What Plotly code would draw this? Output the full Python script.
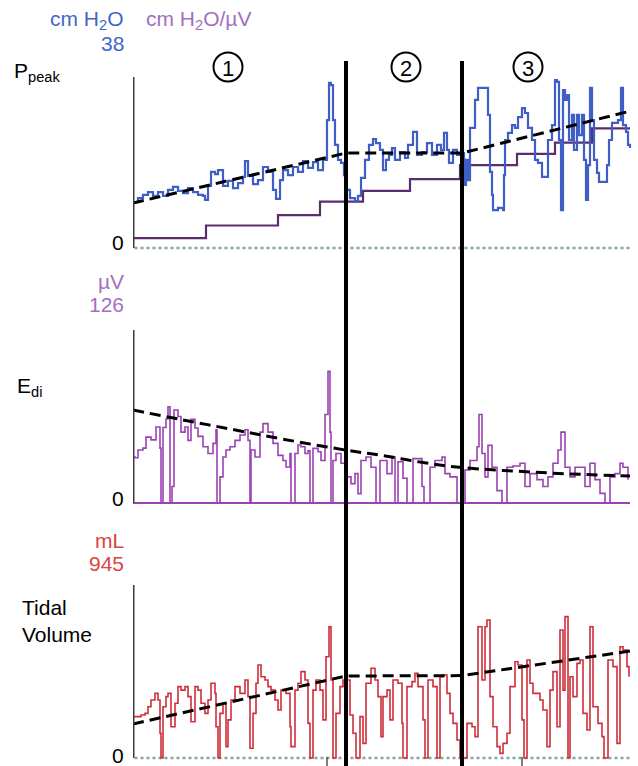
import plotly.graph_objects as go

# ---------------- data (x = breath index) ----------------
ppeak_x = [0, 5, 10, 15, 20, 25, 30, 35, 40, 45, 50, 55, 60, 65, 70, 72, 75, 78, 82, 85,
           90, 95, 100, 105, 110, 112, 115, 120, 125, 130, 135, 140, 143, 147, 150, 155, 160, 165, 170, 175,
           180, 185, 190, 194, 196, 198, 200, 202, 205, 208, 211, 213, 217, 222, 225, 228, 232, 236, 240, 243,
           247, 250, 253, 256, 259, 262, 267, 272, 275, 280, 284, 289, 294, 299, 304, 308, 311, 314, 316, 320,
           324, 329, 331, 333, 335, 337, 340, 342, 345, 350, 354, 355, 357, 359, 360, 365, 370, 371, 372, 375,
           379, 382, 385, 389, 392, 395, 399, 402, 405, 409, 412, 415, 419, 422, 424, 426, 428, 430, 432, 434,
           436, 439, 441, 444, 446, 449, 451, 453, 455, 457, 459, 461, 464, 466, 470, 474, 476, 479, 482, 485,
           488, 490, 493, 495, 497]
ppeak_y = [10.2, 11.1, 11.8, 12.4, 11.6, 12.4, 11.6, 12.9, 13.6, 12.7, 12.2, 13.3, 12.4, 11.8, 11.6, 10.7, 13.8, 16.9, 16.4, 17.3,
           13.8, 14.9, 13.3, 14.4, 15.8, 19.3, 16.0, 14.2, 15.1, 18.0, 16.9, 12.9, 10.9, 15.1, 17.3, 16.2, 18.0, 16.9, 19.3, 17.8,
           19.1, 17.3, 19.6, 28.4, 36.7, 36.2, 28.4, 22.9, 19.6, 18.9, 16.2, 12.9, 11.1, 10.4, 11.6, 15.6, 19.6, 22.9, 24.2, 23.3,
           21.8, 17.3, 19.6, 20.7, 22.2, 19.6, 21.3, 20.0, 22.9, 25.8, 20.7, 21.3, 23.3, 20.7, 22.9, 21.8, 25.6, 21.8, 18.9, 21.8,
           20.7, 21.1, 14.0, 19.6, 15.1, 26.7, 26.7, 32.9, 35.6, 35.6, 35.6, 29.6, 16.9, 11.8, 8.4, 8.9, 8.4, 16.2, 24.0, 25.6,
           27.3, 26.7, 29.1, 31.1, 30.0, 26.7, 24.0, 19.6, 18.9, 15.8, 15.8, 24.0, 27.3, 37.3, 36.9, 24.0, 8.4, 35.1, 32.9, 34.0,
           24.0, 29.6, 21.8, 29.6, 25.1, 29.6, 19.6, 10.7, 18.4, 35.6, 28.4, 19.6, 16.7, 14.7, 14.7, 18.4, 24.0, 27.8, 27.8, 28.4,
           35.6, 27.3, 25.8, 22.9, 22.2]

nava_x = [0, 73, 145, 187, 230, 277, 327, 384, 422, 459, 497]
nava_y = [2.2, 5.0, 7.3, 10.3, 12.7, 15.3, 18.4, 20.9, 23.4, 26.6, 26.6]

ppeak_trend_x = [0, 213, 329, 497]
ppeak_trend_y = [10.0, 21.1, 21.1, 30.4]

edi_x = [0, 2, 5, 10, 13, 18, 23, 27, 28, 30, 33, 35, 37, 39, 41, 45, 48, 52, 55, 58,
         62, 65, 70, 75, 80, 83, 84, 87, 90, 93, 97, 102, 107, 112, 115, 117, 118, 122, 127, 130,
         135, 140, 145, 150, 153, 157, 158, 162, 165, 168, 172, 175, 177, 180, 185, 188, 192, 195, 197, 198,
         200, 203, 208, 213, 218, 222, 225, 228, 233, 238, 243, 247, 254, 259, 262, 265, 270, 274, 280, 289,
         291, 297, 302, 309, 312, 317, 324, 332, 337, 344, 346, 349, 352, 355, 359, 364, 369, 374, 380, 387,
         392, 397, 404, 410, 415, 420, 425, 428, 432, 437, 442, 447, 452, 457, 462, 467, 472, 477, 482, 487,
         490, 495]
edi_y = [33.5, 33.0, 38.6, 40.0, 48.0, 46.0, 55.4, 40.0, 0, 55.0, 61.2, 70.1, 0, 12.0, 67.7, 63.0, 51.6, 55.4, 45.6, 61.0,
         54.6, 48.5, 41.0, 36.1, 43.4, 53.3, 0, 19.0, 33.5, 38.6, 41.0, 45.6, 49.5, 53.3, 45.6, 0, 38.6, 33.5, 51.6, 57.8,
         51.6, 43.4, 34.7, 31.0, 26.2, 36.0, 0, 36.1, 42.2, 41.0, 36.1, 38.0, 0, 39.8, 37.3, 31.0, 64.5, 95.9, 51.6, 0,
         31.0, 36.1, 28.9, 19.0, 14.1, 21.4, 6.8, 31.0, 33.5, 26.0, 0, 31.0, 21.4, 33.5, 0, 30.0, 18.0, 0, 32.3, 12.0,
         0, 26.0, 31.0, 33.5, 21.4, 19.0, 0, 24.0, 31.0, 41.0, 64.5, 36.1, 19.0, 42.0, 26.0, 9.0, 0, 26.0, 27.0, 29.0,
         12.0, 21.4, 17.0, 12.0, 19.0, 29.0, 38.6, 51.6, 26.0, 19.0, 26.0, 26.0, 12.0, 29.0, 17.0, 7.0, 0, 19.0, 21.4, 29.0,
         26.0, 17.0]

edi_trend_x = [0, 50, 100, 150, 213, 250, 290, 329, 400, 450, 497]
edi_trend_y = [67.7, 60.5, 53.5, 46.5, 38.5, 34.5, 29.5, 25.8, 22.5, 20.8, 19.7]

tv_x = [0, 3, 8, 12, 15, 18, 22, 25, 27, 28, 30, 33, 35, 38, 42, 45, 48, 52, 55, 58,
        62, 65, 68, 72, 75, 78, 82, 83, 85, 87, 90, 93, 95, 98, 102, 107, 112, 115, 117, 120,
        123, 125, 128, 132, 135, 138, 142, 145, 148, 153, 157, 158, 162, 165, 168, 172, 175, 177, 180, 183,
        187, 190, 193, 196, 198, 200, 203, 207, 210, 217, 220, 223, 227, 230, 233, 238, 242, 245, 248, 250,
        254, 257, 260, 265, 269, 270, 274, 279, 282, 285, 290, 292, 295, 300, 304, 307, 310, 314, 317, 320,
        324, 327, 334, 339, 342, 345, 349, 352, 354, 357, 360, 364, 367, 370, 374, 377, 382, 385, 389, 391,
        394, 397, 400, 404, 407, 410, 414, 417, 420, 424, 427, 430, 432, 435, 437, 440, 444, 447, 450, 454,
        457, 460, 465, 469, 471, 475, 480, 484, 487, 490, 494, 496]
tv_y = [226, 226, 235, 244, 280, 317, 353, 317, 135, 0, 280, 335, 353, 171, 299, 390, 371, 390, 335, 198,
        390, 371, 299, 244, 317, 408, 353, 171, 0, 244, 299, 62, 208, 317, 390, 353, 426, 335, 53, 244,
        408, 508, 444, 426, 390, 371, 317, 262, 371, 353, 171, 62, 371, 408, 472, 426, 189, 0, 371, 426,
        371, 208, 553, 717, 426, 0, 244, 390, 426, 235, 135, 0, 226, 80, 408, 490, 426, 335, 117, 335,
        371, 208, 426, 408, 189, 0, 390, 417, 462, 390, 208, 0, 426, 390, 0, 444, 453, 353, 244, 189,
        98, 0, 189, 171, 117, 717, 426, 717, 754, 335, 171, 62, 25, 80, 135, 390, 526, 508, 208, 0,
        535, 408, 353, 353, 317, 262, 62, 371, 472, 171, 699, 371, 772, 0, 444, 335, 517, 535, 244, 153,
        717, 280, 189, 117, 0, 535, 499, 80, 608, 590, 499, 444]

tv_trend_x = [0, 213, 329, 497]
tv_trend_y = [186, 448, 450, 584]

phase_x = [213, 329]            # boundaries between phases
phase_labels = ["1", "2", "3"]
bottom_ticks = [194, 389]

# ---------------- layout helpers ----------------
W, H = 638, 766
def fx(p): return p / W
def fy(p): return 1 - p / H

X_LEFT, X_RIGHT, X_MAX = 133, 632, 499
FONT = "Liberation Sans, Arial, sans-serif"

BLUE = "#3f5fc6"
NAVA = "#5b2c6e"
PURPLE = "#9c43b2"
RED = "#cf2f3b"
BLUE_T = "#4466cc"
LILAC_T = "#a36fc0"
RED_T = "#d8463f"
DOT = "#8aa2a8"

panels = [  # (top px, zero px, vmax)
    (77, 248, 38),
    (330, 503, 126),
    (585, 758, 945),
]
PAD = 4

fig = go.Figure()
layout = dict(
    width=W, height=H, margin=dict(l=0, r=0, t=0, b=0),
    paper_bgcolor="white", plot_bgcolor="rgba(0,0,0,0)", showlegend=False,
    xaxis=dict(domain=[fx(X_LEFT), fx(X_RIGHT)], range=[0, X_MAX], visible=False, fixedrange=True),
)
for i, (top, zero, vmax) in enumerate(panels):
    upp = vmax / (zero - top)
    key = "yaxis" if i == 0 else f"yaxis{i+1}"
    layout[key] = dict(domain=[fy(zero + PAD), fy(top - PAD)],
                       range=[-PAD * upp, vmax + PAD * upp],
                       visible=False, anchor="x", fixedrange=True)
fig.update_layout(**layout)

def line(x, y, yaxis, color, width, shape="hv", dash=None):
    fig.add_trace(go.Scatter(x=x, y=y, yaxis=yaxis, xaxis="x", mode="lines",
                             line=dict(color=color, width=width, shape=shape, dash=dash),
                             hoverinfo="skip"))

# Ppeak panel
line(nava_x, nava_y, "y", NAVA, 2.2)
line(ppeak_x, ppeak_y, "y", BLUE, 2.2)
line(ppeak_trend_x, ppeak_trend_y, "y", "black", 3, shape="linear", dash="11px,6px")
# Edi panel
line(edi_x, edi_y, "y2", PURPLE, 1.6)
line(edi_trend_x, edi_trend_y, "y2", "black", 3, shape="spline", dash="11px,6px")
# TV panel
line(tv_x, tv_y, "y3", RED, 1.6)
line(tv_trend_x, tv_trend_y, "y3", "black", 3, shape="linear", dash="11px,6px")

shapes = []
yrefs = ["y", "y2", "y3"]
for i, (top, zero, vmax) in enumerate(panels):
    yr = yrefs[i]
    shapes.append(dict(type="line", xref="x", yref=yr, x0=0, x1=0, y0=0, y1=vmax,
                       line=dict(color="#3c3c3c", width=3)))
    if i == 1:
        shapes.append(dict(type="line", xref="x", yref=yr, x0=0, x1=497, y0=0, y1=0,
                           line=dict(color=PURPLE, width=2), layer="below"))
    else:
        shapes.append(dict(type="line", xref="x", yref=yr, x0=1.5, x1=497, y0=0, y1=0,
                           line=dict(color=DOT, width=2.5, dash="dot"), layer="below"))

for xv in phase_x:
    shapes.append(dict(type="line", xref="x", yref="paper", x0=xv, x1=xv, y0=0, y1=fy(61),
                       line=dict(color="black", width=4)))
for xv in bottom_ticks:
    shapes.append(dict(type="line", xref="x", yref="paper", x0=xv, x1=xv, y0=0, y1=fy(757),
                       line=dict(color="#555", width=1.5)))

circ_cx = [228, 406, 528]
R = 14.5
for cx in circ_cx:
    shapes.append(dict(type="circle", xref="paper", yref="paper",
                       x0=fx(cx - R), x1=fx(cx + R), y0=fy(67 + R), y1=fy(67 - R),
                       line=dict(color="black", width=2)))
fig.update_layout(shapes=shapes)

ann = []
def text(t, x, y, color="black", size=21, anchor="left"):
    ann.append(dict(text=t, x=fx(x), y=fy(y), xref="paper", yref="paper", showarrow=False,
                    xanchor=anchor, yanchor="middle", font=dict(family=FONT, size=size, color=color)))

text("cm H<sub>2</sub>O", 126, 20, BLUE_T, 21, "right")
text("cm H<sub>2</sub>O/µV", 144, 20, LILAC_T, 21, "left")
text("38", 126, 44, BLUE_T, 21, "right")
text("P<sub>peak</sub>", 12, 72, "black", 21, "left")
text("0", 126, 243, "black", 21, "right")

text("µV", 126, 282, LILAC_T, 21, "right")
text("126", 126, 304, LILAC_T, 21, "right")
text("E<sub>di</sub>", 15, 387, "black", 21, "left")
text("0", 126, 498, "black", 21, "right")

text("mL", 126, 540, RED_T, 21, "right")
text("945", 126, 563, RED_T, 21, "right")
text("Tidal", 20, 607, "black", 21, "left")
text("Volume", 20, 634, "black", 21, "left")
text("0", 126, 755, "black", 21, "right")

for cx, lab in zip(circ_cx, phase_labels):
    text(lab, cx, 68, "black", 22, "center")
fig.update_layout(annotations=ann)

fig.write_html("out.html")
